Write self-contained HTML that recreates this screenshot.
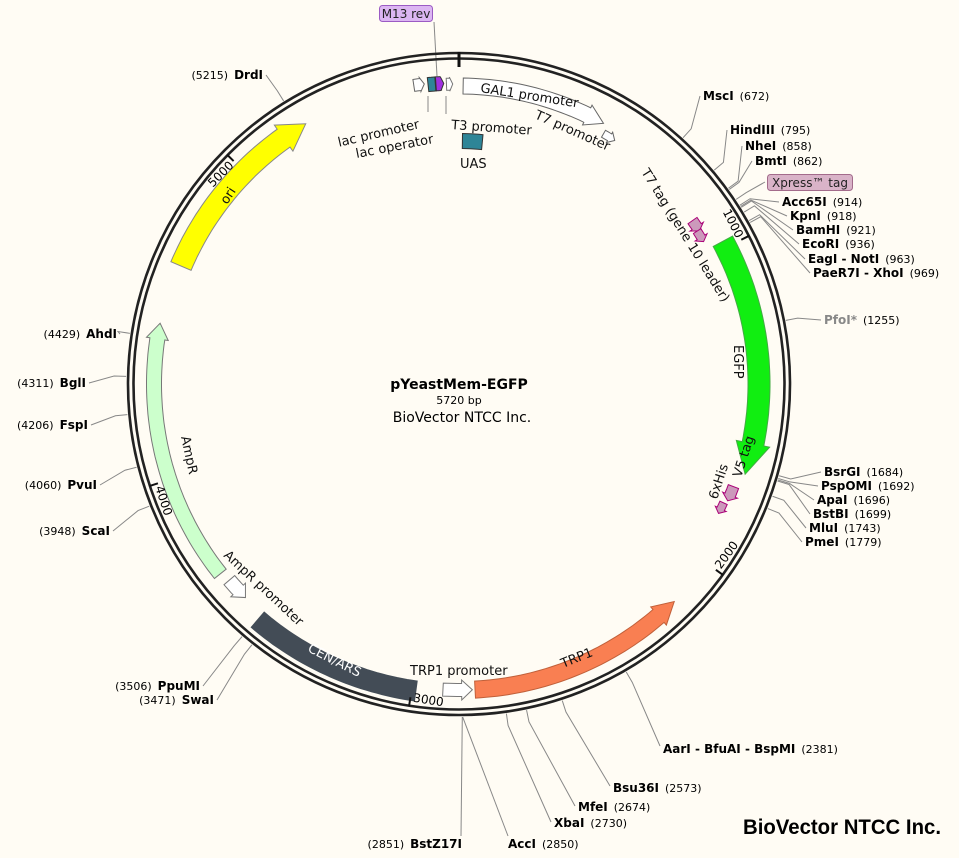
<!DOCTYPE html>
<html><head><meta charset="utf-8"><style>
html,body{margin:0;padding:0;background:#fffcf4;}
svg{display:block;font-family:"DejaVu Sans","Liberation Sans",sans-serif;}
.n{font-weight:bold;font-size:12px;fill:#000;}
.p{font-size:11px;fill:#000;}
.f{font-size:13px;fill:#111;}
</style></head><body>
<svg id="s" width="959" height="858" viewBox="0 0 959 858" xmlns="http://www.w3.org/2000/svg">
<rect width="959" height="858" fill="#fffcf4"/>
<g id="lines" stroke="#888" stroke-width="1" fill="none"></g>
<g id="ring"></g>
<g id="feat"></g>
<g id="ticks"></g>

<!-- feature labels -->
<text class="f" transform="translate(480,92) rotate(9)">GAL1 promoter</text>
<text class="f" transform="translate(534,118) rotate(24)">T7 promoter</text>
<text class="f" text-anchor="end" transform="translate(420,128) rotate(-13)">lac promoter</text>
<text class="f" text-anchor="end" transform="translate(434,143) rotate(-11)">lac operator</text>
<text class="f" transform="translate(451,129) rotate(4)">T3 promoter</text>
<text class="f" x="460" y="168">UAS</text>
<text class="f" transform="translate(641,172) rotate(58)">T7 tag (gene 10 leader)</text>
<text class="f" transform="translate(734,345) rotate(90)">EGFP</text>
<text class="f" transform="translate(741,478) rotate(-72)">V5 tag</text>
<text class="f" transform="translate(717,500) rotate(-72)">6xHis</text>
<text class="f" transform="translate(227,205) rotate(-57)">ori</text>
<text class="f" transform="translate(181,437) rotate(78)">AmpR</text>
<text class="f" transform="translate(223,556) rotate(43)">AmpR promoter</text>
<text class="f" style="fill:#fff" transform="translate(307,651) rotate(27)">CEN/ARS</text>
<text class="f" x="410" y="675">TRP1 promoter</text>
<text class="f" transform="translate(563,668) rotate(-22)">TRP1</text>

<!-- M13 rev box -->
<rect x="379.5" y="5.5" width="53" height="16" rx="3" fill="#dcb6f2" stroke="#9b5bc4"/>
<text x="406" y="18" text-anchor="middle" style="font-size:12px" fill="#222">M13 rev</text>
<!-- Xpress box -->
<rect x="767.5" y="174.5" width="85" height="16" rx="3" fill="#d9b3c8" stroke="#a36b8b"/>
<text x="810" y="187" text-anchor="middle" style="font-size:12px" fill="#222">Xpress™ tag</text>

<!-- center -->
<text x="459" y="389" text-anchor="middle" style="font-weight:bold;font-size:14px">pYeastMem-EGFP</text>
<text x="459" y="404" text-anchor="middle" style="font-size:11px">5720 bp</text>
<text x="462" y="422" text-anchor="middle" style="font-size:14px">BioVector NTCC Inc.</text>

<!-- right labels -->
<text x="703" y="100"><tspan class="n">MscI</tspan><tspan class="p" dx="6">(672)</tspan></text>
<text x="730" y="134"><tspan class="n">HindIII</tspan><tspan class="p" dx="6">(795)</tspan></text>
<text x="745" y="150"><tspan class="n">NheI</tspan><tspan class="p" dx="6">(858)</tspan></text>
<text x="755" y="165"><tspan class="n">BmtI</tspan><tspan class="p" dx="6">(862)</tspan></text>
<text x="782" y="206"><tspan class="n">Acc65I</tspan><tspan class="p" dx="6">(914)</tspan></text>
<text x="790" y="220"><tspan class="n">KpnI</tspan><tspan class="p" dx="6">(918)</tspan></text>
<text x="796" y="234"><tspan class="n">BamHI</tspan><tspan class="p" dx="6">(921)</tspan></text>
<text x="802" y="248"><tspan class="n">EcoRI</tspan><tspan class="p" dx="6">(936)</tspan></text>
<text x="808" y="263"><tspan class="n">EagI - NotI</tspan><tspan class="p" dx="6">(963)</tspan></text>
<text x="813" y="277"><tspan class="n">PaeR7I - XhoI</tspan><tspan class="p" dx="6">(969)</tspan></text>
<text x="824" y="324"><tspan class="n" style="fill:#888">PfoI*</tspan><tspan class="p" dx="6">(1255)</tspan></text>
<text x="824" y="476"><tspan class="n">BsrGI</tspan><tspan class="p" dx="6">(1684)</tspan></text>
<text x="821" y="490"><tspan class="n">PspOMI</tspan><tspan class="p" dx="6">(1692)</tspan></text>
<text x="817" y="504"><tspan class="n">ApaI</tspan><tspan class="p" dx="6">(1696)</tspan></text>
<text x="813" y="518"><tspan class="n">BstBI</tspan><tspan class="p" dx="6">(1699)</tspan></text>
<text x="809" y="532"><tspan class="n">MluI</tspan><tspan class="p" dx="6">(1743)</tspan></text>
<text x="805" y="546"><tspan class="n">PmeI</tspan><tspan class="p" dx="6">(1779)</tspan></text>
<text x="663" y="753"><tspan class="n">AarI - BfuAI - BspMI</tspan><tspan class="p" dx="6">(2381)</tspan></text>
<text x="613" y="792"><tspan class="n">Bsu36I</tspan><tspan class="p" dx="6">(2573)</tspan></text>
<text x="578" y="811"><tspan class="n">MfeI</tspan><tspan class="p" dx="6">(2674)</tspan></text>
<text x="554" y="827"><tspan class="n">XbaI</tspan><tspan class="p" dx="6">(2730)</tspan></text>
<text x="508" y="848"><tspan class="n">AccI</tspan><tspan class="p" dx="6">(2850)</tspan></text>
<!-- left labels -->
<text x="263" y="79" text-anchor="end"><tspan class="p">(5215)</tspan><tspan class="n" dx="6">DrdI</tspan></text>
<text x="117" y="338" text-anchor="end"><tspan class="p">(4429)</tspan><tspan class="n" dx="6">AhdI</tspan></text>
<text x="86" y="387" text-anchor="end"><tspan class="p">(4311)</tspan><tspan class="n" dx="6">BglI</tspan></text>
<text x="88" y="429" text-anchor="end"><tspan class="p">(4206)</tspan><tspan class="n" dx="6">FspI</tspan></text>
<text x="97" y="489" text-anchor="end"><tspan class="p">(4060)</tspan><tspan class="n" dx="6">PvuI</tspan></text>
<text x="110" y="535" text-anchor="end"><tspan class="p">(3948)</tspan><tspan class="n" dx="6">ScaI</tspan></text>
<text x="200" y="690" text-anchor="end"><tspan class="p">(3506)</tspan><tspan class="n" dx="6">PpuMI</tspan></text>
<text x="214" y="704" text-anchor="end"><tspan class="p">(3471)</tspan><tspan class="n" dx="6">SwaI</tspan></text>
<text x="462" y="848" text-anchor="end"><tspan class="p">(2851)</tspan><tspan class="n" dx="6">BstZ17I</tspan></text>

<!-- tick labels -->
<text id="t1" style="font-size:12px">1000</text>
<text id="t2" style="font-size:12px">2000</text>
<text id="t3" style="font-size:12px">3000</text>
<text id="t4" style="font-size:12px">4000</text>
<text id="t5" style="font-size:12px">5000</text>

<text x="743" y="834" style="font-family:'Liberation Sans',sans-serif;font-weight:bold;font-size:21px" textLength="198" lengthAdjust="spacingAndGlyphs">BioVector NTCC Inc.</text>
</svg>
<script>
var NS="http://www.w3.org/2000/svg",cx=459,cy=384;
function P(a,r){a=a*Math.PI/180;return [cx+r*Math.sin(a),cy-r*Math.cos(a)];}
function el(g,t,at){var e=document.createElementNS(NS,t);for(var k in at)e.setAttribute(k,at[k]);document.getElementById(g).appendChild(e);return e;}
function arc(a1,a2,r){var s="",n=Math.max(4,Math.ceil(Math.abs(a2-a1)));for(var i=0;i<=n;i++){var p=P(a1+(a2-a1)*i/n,r);s+=(i?" L":"")+p[0].toFixed(1)+","+p[1].toFixed(1);}return s;}
function feat(a1,a2,r,w,head,fill,stroke,hw){
  hw=hw||w*0.75;var d;
  if(head){var sg=a2>a1?1:-1,ab=a2-sg*head;
    var tip=P(a2,r),o=P(ab,r+hw),i2=P(ab,r-hw);
    d="M"+arc(a1,ab,r+w/2)+" L"+o[0]+","+o[1]+" L"+tip[0]+","+tip[1]+" L"+i2[0]+","+i2[1]+" L"+arc(ab,a1,r-w/2)+" Z";
  } else d="M"+arc(a1,a2,r+w/2)+" L"+arc(a2,a1,r-w/2)+" Z";
  el("feat","path",{d:d,fill:fill,stroke:stroke||"#777","stroke-width":1});
}
el("ring","circle",{cx:cx,cy:cy,r:331,fill:"none",stroke:"#222","stroke-width":2.6});
el("ring","circle",{cx:cx,cy:cy,r:325.5,fill:"none",stroke:"#222","stroke-width":2.6});
var t0=P(0,332),t0b=P(0,317);el("ring","line",{x1:t0[0],y1:t0[1],x2:t0b[0],y2:t0b[1],stroke:"#111","stroke-width":3});
feat(0.8,29,298,16,3.5,"#fff","#666",11);
feat(30,32.6,289,8,1.2,"#fff","#666",6);
feat(61.6,107.5,300,22,6,"#11ee11","#4a4",17);
feat(293,329.5,302,22,5,"#ffff00","#888",16);
feat(231.5,281.5,305,15,3,"#ccffcc","#777",11);
feat(229.5,225,302,14,2,"#fff","#777",10);
feat(220.5,188,310,20,0,"#434c56","#434c56");
feat(183,177.5,306,13,2,"#fff","#777",10);
feat(177,135.3,306,17,4,"#f97f52","#c0603a",12);
feat(0.8,5.5,243,15,0,"#2e8597","#333");
feat(-8.6,-6.6,302,12,0.8,"#fff","#666",7);
feat(-5.9,-4.5,301,14,0,"#2e8597","#333");
feat(-4.4,-2.9,301,14,0.6,"#a030e0","#333",7);
feat(-2.4,-1.2,300,12,0.6,"#fff","#777",7);
feat(55,57.5,285,11,1,"#cc99bb","#a07",8);
feat(57.3,59.8,283,9,1,"#cc99bb","#a07",7);
feat(110.5,113.5,293,11,1.2,"#cc99bb","#a07",8);
feat(114.2,116.5,290,8,1,"#cc99bb","#a07",6);
var T=[[1000,"t1"],[2000,"t2"],[3000,"t3"],[4000,"t4"],[5000,"t5"]];
T.forEach(function(t){var a=t[0]/5720*360,p1=P(a,326),p2=P(a,317);
 el("ticks","line",{x1:p1[0],y1:p1[1],x2:p2[0],y2:p2[1],stroke:"#111","stroke-width":2});
 var p=P(a,323),e=document.getElementById(t[1]);var up=(a>=270||a<90);
 if(up){e.setAttribute("text-anchor","end");e.setAttribute("transform","translate("+p[0]+","+p[1]+") rotate("+a+") translate(-3,10)");}
 else{e.setAttribute("transform","translate("+p[0]+","+p[1]+") rotate("+(a-180)+") translate(3,-2)");}
});
var L=[[672,700,96],[795,727,130],[858,742,146],[862,752,161],[914,779,202],[918,787,216],[921,793,230],[936,799,244],[963,805,259],[969,810,273],[1255,821,320],
[1684,821,472],[1692,818,486],[1696,814,500],[1699,810,514],[1743,806,528],[1779,802,542],
[2381,660,746],[2573,610,786],[2674,575,806],[2730,551,822],[2850,508,836],[2851,461,836],
[5215,266,75],[4429,120,334],[4311,89,383],[4206,91,425],[4060,100,485],[3948,113,531],[3506,203,686],[3471,217,700],[895,765,182]];
L.forEach(function(l){var a=l[0]/5720*360,p=P(a,333),q=P(a,345);
 var d="M"+p[0]+","+p[1]+" L"+q[0]+","+q[1]+" L"+l[1]+","+l[2];
 if(l[0]>=2800&&l[0]<2900){d="M"+p[0]+","+p[1]+" L"+l[1]+","+l[2];}
 el("lines","path",{d:d});});
el("lines","path",{d:"M434,22 L437,76"});
el("lines","path",{d:"M428,96 L428,112"});el("lines","path",{d:"M446,96 L446,114"});
</script>
</body></html>
